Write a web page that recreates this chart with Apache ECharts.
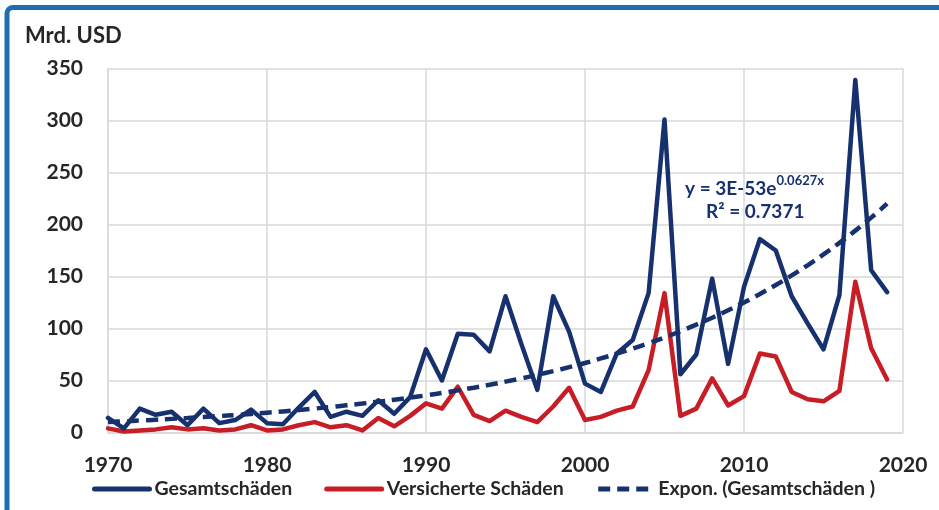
<!DOCTYPE html>
<html><head><meta charset="utf-8">
<script src="https://cdn.jsdelivr.net/npm/echarts@6/dist/echarts.min.js"></script>
<style>html,body{margin:0;padding:0;background:#fff}#c{width:939px;height:510px}</style>
</head><body><div id="c"></div>
<script>
const years = [1970,1971,1972,1973,1974,1975,1976,1977,1978,1979,
  1980,1981,1982,1983,1984,1985,1986,1987,1988,1989,
  1990,1991,1992,1993,1994,1995,1996,1997,1998,1999,
  2000,2001,2002,2003,2004,2005,2006,2007,2008,2009,
  2010,2011,2012,2013,2014,2015,2016,2017,2018,2019];
const gesamt = [14,4,23,17,20,7,23,9,12,22,
  9,8,24,39,15,20,16,31,18,34,
  80,50,95,94,78,131,85,41,131,97,
  47,39,76,89,134,301,56,75,148,66,
  140,186,175,131,105,80,132,339,156,135];
const versichert = [4,1,2,3,5,3,4,2,3,7,
  2,3,7,10,5,7,2,14,6,16,
  28,23,44,17,11,21,15,10,25,43,
  12,15,21,25,60,134,16,23,52,26,
  35,76,73,39,32,30,40,145,81,51];
const trend = [10.2,10.8,11.5,12.3,13.1,13.9,14.8,15.8,16.8,17.9,
  19.1,20.3,21.6,23.0,24.5,26.1,27.8,29.6,31.5,33.5,
  35.7,38.0,40.5,43.1,45.9,48.9,52.0,55.4,59.0,62.8,
  66.8,71.2,75.8,80.7,85.9,91.4,97.4,103.7,110.4,117.5,
  125.1,133.2,141.8,151.0,160.8,171.2,182.3,194.1,206.6,220.0];
const seriesNames = ['Gesamtschäden','Versicherte Schäden','Expon. (Gesamtschäden )'];
const yTicks = {min:0, max:350, interval:50};
const xTicks = {min:1970, max:2020, interval:10};

const FONT = 'Lato';
const TXT = '#262626';
const NAVY = '#17316f';
const RED = '#c61d27';
const pairs = arr => years.map((y,i)=>[y,arr[i]]);

const chart = echarts.init(document.getElementById('c'), null, {renderer:'canvas'});
chart.setOption({
  animation:false,
  backgroundColor:'#fff',
  grid:{left:108, right:36, top:68.5, bottom:77.5, containLabel:false},
  xAxis:{type:'value', min:xTicks.min, max:xTicks.max, interval:xTicks.interval,
    axisLine:{show:true, lineStyle:{color:'#d9d9d9', width:1.5}},
    axisTick:{show:false},
    axisLabel:{color:TXT, fontFamily:FONT, fontWeight:'bold', fontSize:21, margin:22, formatter:v=>String(v)},
    splitLine:{show:true, lineStyle:{color:'#d9d9d9', width:1.5}}},
  yAxis:{type:'value', min:yTicks.min, max:yTicks.max, interval:yTicks.interval,
    axisLine:{show:true, lineStyle:{color:'#d9d9d9', width:1.5}},
    axisTick:{show:false},
    axisLabel:{color:TXT, fontFamily:FONT, fontWeight:'bold', fontSize:21, margin:25},
    splitLine:{show:true, lineStyle:{color:'#d9d9d9', width:1.5}}},
  legend:{left:87, top:474, itemWidth:55, itemHeight:14, itemGap:32,
    itemStyle:{opacity:0},
    lineStyle:{width:5},
    textStyle:{color:TXT, fontFamily:FONT, fontWeight:'bold', fontSize:19.5},
    data:seriesNames},
  series:[
    {name:seriesNames[0], type:'line', data:pairs(gesamt), showSymbol:false, symbol:'none', symbolSize:0,
      lineStyle:{color:NAVY, width:4.5, join:'round', cap:'round'}, itemStyle:{color:NAVY}, z:3},
    {name:seriesNames[1], type:'line', data:pairs(versichert), showSymbol:false, symbol:'none', symbolSize:0,
      lineStyle:{color:RED, width:4.5, join:'round', cap:'round'}, itemStyle:{color:RED}, z:2},
    {name:seriesNames[2], type:'line', data:pairs(trend), showSymbol:false, symbol:'none', symbolSize:0, smooth:true,
      lineStyle:{color:NAVY, width:4.5, type:[12,7], cap:'butt'}, itemStyle:{color:NAVY}, z:4}
  ],
  graphic:[
    {type:'rect', shape:{x:7, y:7.5, width:1100, height:1100, r:6}, style:{fill:null, stroke:'#1f6db5', lineWidth:5}, silent:true},
    {type:'text', left:25, top:25, style:{text:'Mrd. USD', fill:TXT, font:'bold 22px '+FONT}},
    {type:'text', left:685, top:174, style:{
      text:'{a|y = 3E-53e}{b|0.0627x}', rich:{
        a:{fill:NAVY, fontFamily:FONT, fontWeight:'bold', fontSize:19, verticalAlign:'bottom', lineHeight:24},
        b:{fill:NAVY, fontFamily:FONT, fontWeight:'bold', fontSize:13, verticalAlign:'top', lineHeight:24, padding:[0,0,10,0]}
      }}},
    {type:'text', left:706, top:202, style:{text:'R² = 0.7371', fill:NAVY, font:'bold 19px '+FONT}}
  ]
});
</script></body></html>
